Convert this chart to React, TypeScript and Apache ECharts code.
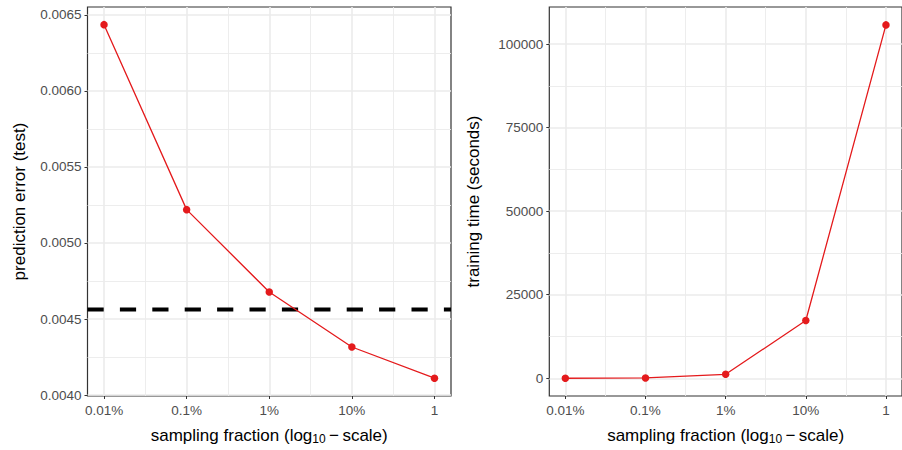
import React, { useEffect, useRef } from "react";
import * as echarts from "echarts";

const fractionLog10 = [-4, -3, -2, -1, 0];
const fractionLabels = ["0.01%", "0.1%", "1%", "10%", "1"];
const fractionMinor = [-3.5, -2.5, -1.5, -0.5];
const predictionError = [0.006435, 0.005219, 0.004678, 0.004316, 0.004111];
const baselineError = 0.004563;
const trainingTime = [10, 100, 1190, 17280, 105750];
const errorTicks = [0.004, 0.0045, 0.005, 0.0055, 0.006, 0.0065];
const errorMinor = [0.00425, 0.00475, 0.00525, 0.00575, 0.00625];
const timeTicks = [0, 25000, 50000, 75000, 100000];
const timeMinor = [12500, 37500, 62500, 87500];

const FONT = "'Liberation Sans', Arial, Helvetica, sans-serif";
const RED = "#E41A1C";
const GRIDC = "#EBEBEB";
const X_MIN = -4.2;
const X_MAX = 0.2;

export default function App() {
  const ref = useRef<HTMLDivElement>(null);
  useEffect(() => {
    if (!ref.current) return;
    const chart = echarts.init(ref.current, null, { renderer: "svg" });

    const xMajor = (gridIndex: number) => ({
      type: "value" as const,
      gridIndex,
      min: X_MIN,
      max: X_MAX,
      position: "bottom" as const,
      z: 1,
      splitLine: { show: true, lineStyle: { color: GRIDC, width: 1.6 } },
      axisLine: { show: false, onZero: false },
      axisTick: {
        show: true,
        length: 3,
        lineStyle: { color: "#333333", width: 1 },
        customValues: fractionLog10,
      },
      axisLabel: {
        customValues: fractionLog10,
        formatter: (v: number) => fractionLabels[fractionLog10.indexOf(Math.round(v))] ?? "",
        color: "#4D4D4D",
        fontSize: 13.5,
        fontFamily: FONT,
        margin: 7,
      },
      name: "sampling fraction (log{sub|10}\u2009\u2212\u2009scale)",
      nameLocation: "middle" as const,
      nameGap: 30,
      nameTextStyle: {
        color: "#000",
        fontSize: 17,
        fontFamily: FONT,
        rich: {
          sub: { fontSize: 12, fontFamily: FONT, color: "#000", padding: [7, 0, 0, 0] },
        },
      },
    });
    const xMinor = (gridIndex: number) => ({
      type: "value" as const,
      gridIndex,
      min: X_MIN,
      max: X_MAX,
      position: "bottom" as const,
      z: 0,
      splitLine: { show: true, lineStyle: { color: GRIDC, width: 0.9 } },
      axisLine: { show: false, onZero: false },
      axisTick: { show: false, customValues: fractionMinor },
      axisLabel: { show: false, customValues: fractionMinor },
    });
    const yMajor = (gridIndex: number, min: number, max: number, ticks: number[], name: string, fmt: (v: number) => string, gap: number) => ({
      type: "value" as const,
      gridIndex,
      min,
      max,
      position: "left" as const,
      z: 1,
      splitLine: { show: true, lineStyle: { color: GRIDC, width: 1.6 } },
      axisLine: { show: false, onZero: false },
      axisTick: {
        show: true,
        length: 3,
        lineStyle: { color: "#333333", width: 1 },
        customValues: ticks,
      },
      axisLabel: {
        customValues: ticks,
        formatter: fmt,
        color: "#4D4D4D",
        fontSize: 13.5,
        fontFamily: FONT,
        margin: 6,
      },
      name,
      nameLocation: "middle" as const,
      nameGap: gap,
      nameTextStyle: { color: "#000", fontSize: 17, fontFamily: FONT },
    });
    const yMinor = (gridIndex: number, min: number, max: number, ticks: number[]) => ({
      type: "value" as const,
      gridIndex,
      min,
      max,
      position: "left" as const,
      z: 0,
      splitLine: { show: true, lineStyle: { color: GRIDC, width: 0.9 } },
      axisLine: { show: false, onZero: false },
      axisTick: { show: false, customValues: ticks },
      axisLabel: { show: false, customValues: ticks },
    });

    const E_MIN = 0.003994;
    const E_MAX = 0.006551;
    const T_MIN = -5300;
    const T_MAX = 111100;

    chart.setOption({
      animation: false,
      backgroundColor: "#FFFFFF",
      grid: [
        { left: 87.5, top: 7, width: 363.5, height: 390, show: true, borderColor: "#333333", borderWidth: 1.2, backgroundColor: "transparent" },
        { left: 549.3, top: 7, width: 359.5, height: 390, show: true, borderColor: "#333333", borderWidth: 1.2, backgroundColor: "transparent" },
      ],
      xAxis: [xMajor(0), xMajor(1), xMinor(0), xMinor(1)],
      yAxis: [
        yMajor(0, E_MIN, E_MAX, errorTicks, "prediction error (test)", (v) => v.toFixed(4), 60),
        yMajor(1, T_MIN, T_MAX, timeTicks, "training time (seconds)", (v) => String(Math.round(v)), 67),
        yMinor(0, E_MIN, E_MAX, errorMinor),
        yMinor(1, T_MIN, T_MAX, timeMinor),
      ],
      series: [
        {
          type: "line",
          xAxisIndex: 0,
          yAxisIndex: 0,
          z: 2,
          silent: true,
          data: [
            [X_MIN, baselineError],
            [X_MAX, baselineError],
          ],
          symbol: "none",
          showSymbol: false,
          lineStyle: { color: "#000000", type: [16.2, 16.2], width: 4 },
        },
        {
          type: "line",
          xAxisIndex: 0,
          yAxisIndex: 0,
          z: 3,
          data: fractionLog10.map((x, i) => [x, predictionError[i]]),
          symbol: "circle",
          symbolSize: 7.5,
          showSymbol: true,
          lineStyle: { color: RED, width: 1.3 },
          itemStyle: { color: RED },
        },
        {
          type: "line",
          xAxisIndex: 1,
          yAxisIndex: 1,
          z: 3,
          data: fractionLog10.map((x, i) => [x, trainingTime[i]]),
          symbol: "circle",
          symbolSize: 7.5,
          showSymbol: true,
          lineStyle: { color: RED, width: 1.3 },
          itemStyle: { color: RED },
        },
      ],
    });
    return () => chart.dispose();
  }, []);
  return (
    <div
      ref={ref}
      style={{ position: "absolute", left: 0, top: 0, width: 902, height: 450 }}
    />
  );
}
